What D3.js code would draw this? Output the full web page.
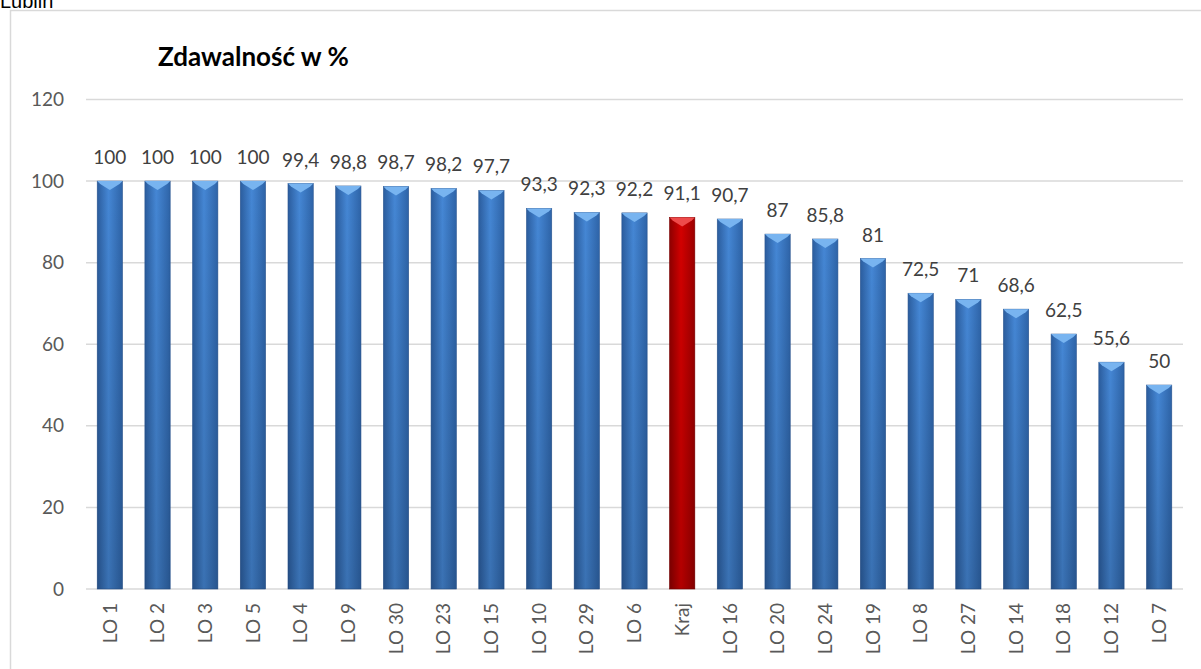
<!DOCTYPE html>
<html>
<head>
<meta charset="utf-8">
<script src="https://cdn.jsdelivr.net/npm/d3@7"></script>
<style>
  body { margin: 0; background: #fff; }
  svg { display: block; }
</style>
</head>
<body>
<div class="chart"></div>
<script>
var schools = ["LO 1", "LO 2", "LO 3", "LO 5", "LO 4", "LO 9", "LO 30", "LO 23", "LO 15", "LO 10", "LO 29", "LO 6",
  "Kraj", "LO 16", "LO 20", "LO 24", "LO 19", "LO 8", "LO 27", "LO 14", "LO 18", "LO 12", "LO 7"];
var passRate = [100, 100, 100, 100, 99.4, 98.8, 98.7, 98.2, 97.7, 93.3, 92.3, 92.2,
  91.1, 90.7, 87, 85.8, 81, 72.5, 71, 68.6, 62.5, 55.6, 50];
var yTicks = [0, 20, 40, 60, 80, 100, 120];
var highlight = "Kraj";

var W = 1201, H = 669;
var margin = {top: 99.5, left: 86, right: 18, bottom: 80};
var width = W - margin.left - margin.right;
var height = 589 - margin.top;

var data = schools.map(function(s, i){ return {name: s, value: passRate[i]}; });

var svg = d3.select(".chart").append("svg")
  .attr("width", W).attr("height", H);

var defs = svg.append("defs");
function barGrad(id, edgeL, mid, edgeR){
  var g = defs.append("linearGradient").attr("id", id)
    .attr("x1", "0").attr("x2", "1").attr("y1", "0").attr("y2", "0");
  g.append("stop").attr("offset", "0%").attr("stop-color", edgeL);
  g.append("stop").attr("offset", "45%").attr("stop-color", mid);
  g.append("stop").attr("offset", "100%").attr("stop-color", edgeR);
}
barGrad("gBlue", "#2b5d9e", "#4587d5", "#2e64a8");
barGrad("gRed", "#8e0000", "#d40000", "#9c0000");
var vg = defs.append("linearGradient").attr("id", "gShade")
  .attr("x1", "0").attr("x2", "0").attr("y1", "0").attr("y2", "1");
vg.append("stop").attr("offset", "0%").attr("stop-color", "#000").attr("stop-opacity", 0);
vg.append("stop").attr("offset", "100%").attr("stop-color", "#000").attr("stop-opacity", 0.16);

// outer frame
svg.append("rect")
  .attr("x", 10.5).attr("y", 10.5)
  .attr("width", 1220).attr("height", 700)
  .attr("fill", "none").attr("stroke", "#d9d9d9").attr("stroke-width", 1.5);

// sheet label, cut by the top edge as in the source
svg.append("text")
  .attr("x", 0).attr("y", 8)
  .style("font-family", "Liberation Sans, Arial, sans-serif")
  .style("font-size", "20px")
  .style("fill", "#000")
  .text("Lublin");

svg.append("text")
  .attr("x", 158).attr("y", 66)
  .style("font-family", "Lato, sans-serif")
  .style("font-weight", "bold")
  .style("font-size", "26px")
  .style("fill", "#000")
  .text("Zdawalność w %");

var x = d3.scaleBand().domain(schools).range([0, width]).paddingInner(0.47).paddingOuter(0.235);
var y = d3.scaleLinear().domain([0, 120]).range([height, 0]);

var g = svg.append("g").attr("transform", "translate(" + margin.left + "," + margin.top + ")");

// gridlines
g.append("g").selectAll("line").data(yTicks).enter().append("line")
  .attr("x1", 0).attr("x2", width)
  .attr("y1", function(d){ return y(d); }).attr("y2", function(d){ return y(d); })
  .attr("stroke", "#d9d9d9").attr("stroke-width", 1.5);

// y axis labels
var yAxis = d3.axisLeft(y).tickValues(yTicks).tickSize(0).tickPadding(22);
g.append("g").attr("class", "y-axis").call(yAxis)
  .call(function(s){ s.select(".domain").remove(); })
  .selectAll("text")
  .style("font-family", "Lato, sans-serif").style("font-size", "19px").style("fill", "#595959");

// x axis labels
var xAxis = d3.axisBottom(x).tickSize(0).tickPadding(0);
g.append("g").attr("class", "x-axis").attr("transform", "translate(0," + height + ")").call(xAxis)
  .call(function(s){ s.select(".domain").remove(); })
  .selectAll("text")
  .attr("transform", "rotate(-90)")
  .attr("x", -14).attr("y", 0).attr("dy", "0.35em")
  .attr("text-anchor", "end")
  .style("font-family", "Lato, sans-serif").style("font-size", "19px").style("fill", "#595959");

// bars
var bars = g.append("g").selectAll("g").data(data).enter().append("g");
bars.append("rect")
  .attr("x", function(d){ return x(d.name); })
  .attr("y", function(d){ return y(d.value); })
  .attr("width", x.bandwidth())
  .attr("height", function(d){ return height - y(d.value); })
  .attr("fill", function(d){ return d.name == highlight ? "url(#gRed)" : "url(#gBlue)"; })
  .attr("stroke", function(d){ return d.name == highlight ? "#7a0000" : "#2a5590"; })
  .attr("stroke-width", 0.6);
bars.append("rect")
  .attr("x", function(d){ return x(d.name); })
  .attr("y", function(d){ return y(d.value); })
  .attr("width", x.bandwidth())
  .attr("height", function(d){ return height - y(d.value); })
  .attr("fill", "url(#gShade)");
// top bevel
bars.append("path")
  .attr("d", function(d){
    var x0 = x(d.name), x1 = x0 + x.bandwidth(), yt = y(d.value);
    var xm = (x0 + x1) / 2;
    return "M" + x0 + "," + yt + " L" + x1 + "," + yt + " L" + (x1 - 3) + "," + (yt + 3)
      + " L" + xm + "," + (yt + 9) + " L" + (x0 + 3) + "," + (yt + 3) + "Z";
  })
  .attr("fill", function(d){ return d.name == highlight ? "#ee4a4a" : "#78b4f0"; });

// value labels
bars.append("text")
  .attr("x", function(d){ return x(d.name) + x.bandwidth() / 2; })
  .attr("y", function(d){ return y(d.value) - 17; })
  .attr("text-anchor", "middle")
  .style("font-family", "Lato, sans-serif").style("font-size", "19px").style("fill", "#404040")
  .text(function(d){ return String(d.value).replace(".", ","); });
</script>
</body>
</html>
